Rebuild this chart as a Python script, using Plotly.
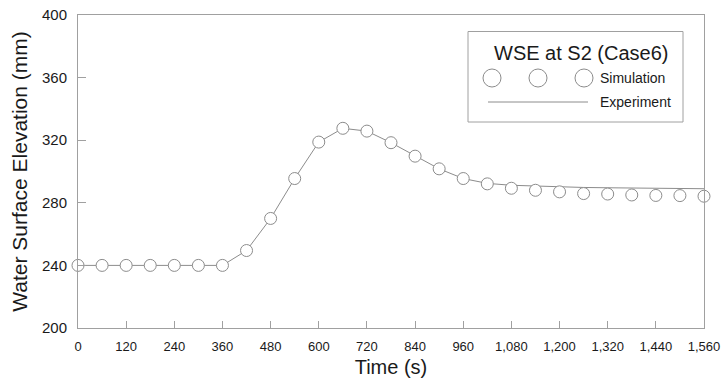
import plotly.graph_objects as go

# ---- data ----
sim_time = [0, 60, 120, 180, 240, 300, 360, 420, 480, 540, 600, 660, 720, 780, 840,
            900, 960, 1020, 1080, 1140, 1200, 1260, 1320, 1380, 1440, 1500, 1560]
sim_wse = [240, 240, 240, 240, 240, 240, 240, 249.5, 270, 295.5, 318.8, 327.6, 325.8,
           318.4, 309.8, 301.7, 295.5, 292.1, 289.3, 288.0, 287.0, 285.9, 285.6, 285.0,
           284.7, 284.6, 284.2]

exp_time = [0, 60, 120, 180, 240, 300, 360, 420, 480, 540, 600, 660, 720, 780, 840,
            900, 960, 1020, 1080, 1140, 1200, 1260, 1320, 1380, 1440, 1500, 1560]
exp_wse = [240, 240, 240, 240, 240, 240, 240, 249.5, 270, 295.5, 318.8, 327.6, 325.8,
           318.4, 309.8, 301.7, 295.5, 292.4, 291.2, 290.6, 290.1, 289.8, 289.6, 289.4,
           289.2, 289.1, 289.0]

x_ticks = list(range(0, 1561, 120))
y_ticks = list(range(200, 401, 40))

legend_title = "WSE at S2 (Case6)"
sim_name = "Simulation"
exp_name = "Experiment"

# ---- style ----
FONT = "Liberation Sans, Arial, sans-serif"
TXT = "#1a1a1a"
GRAY = "#8c8c8c"
AX = "#a0a0a0"

W, H = 727, 387
ML, MR, MT, MB = 78, 23, 15, 59
PW, PH = W - ML - MR, H - MT - MB


def px(x):
    return (x - ML) / PW


def py(y):
    return (H - MB - y) / PH


fig = go.Figure()
fig.add_trace(go.Scatter(x=exp_time, y=exp_wse, mode="lines", name=exp_name,
                         line=dict(color=GRAY, width=1), showlegend=False,
                         cliponaxis=False))
fig.add_trace(go.Scatter(x=sim_time, y=sim_wse, mode="markers", name=sim_name,
                         marker=dict(symbol="circle", size=12, color="white",
                                     line=dict(color=GRAY, width=1)),
                         showlegend=False, cliponaxis=False))

shapes = []
annotations = []
# legend box
shapes.append(dict(type="rect", xref="paper", yref="paper",
                   x0=px(468), x1=px(683), y0=py(122), y1=py(31.5),
                   line=dict(color=AX, width=1), fillcolor="white", layer="below"))
annotations.append(dict(xref="paper", yref="paper", x=px(581), y=py(53),
                        text=legend_title, showarrow=False, xanchor="center",
                        yanchor="middle", font=dict(family=FONT, size=20, color=TXT)))
r = 9
for cx in [492, 538, 584]:
    shapes.append(dict(type="circle", xref="paper", yref="paper",
                       x0=px(cx - r), x1=px(cx + r), y0=py(78 + r), y1=py(78 - r),
                       line=dict(color=GRAY, width=1), fillcolor="white"))
annotations.append(dict(xref="paper", yref="paper", x=px(598), y=py(78),
                        text=sim_name, showarrow=False, xanchor="left", yanchor="middle",
                        font=dict(family=FONT, size=14, color=TXT)))
shapes.append(dict(type="line", xref="paper", yref="paper",
                   x0=px(488), x1=px(588), y0=py(102), y1=py(102),
                   line=dict(color=GRAY, width=1)))
annotations.append(dict(xref="paper", yref="paper", x=px(598), y=py(102),
                        text=exp_name, showarrow=False, xanchor="left", yanchor="middle",
                        font=dict(family=FONT, size=14, color=TXT)))

fig.update_layout(
    width=W, height=H,
    margin=dict(l=ML, r=MR, t=MT, b=MB, pad=0, autoexpand=False),
    paper_bgcolor="white", plot_bgcolor="white",
    font=dict(family=FONT, color=TXT),
    shapes=shapes, annotations=annotations,
    xaxis=dict(range=[0, 1560], tickvals=x_ticks, tickformat=",d", automargin=False,
               showgrid=False, zeroline=False, showline=True, linecolor=AX, linewidth=1,
               mirror=True, ticks="inside", ticklen=7, tickcolor=AX,
               ticklabelstandoff=6,
               tickfont=dict(family=FONT, size=13, color=TXT),
               title=dict(text="Time (s)", font=dict(family=FONT, size=20, color=TXT),
                          standoff=7)),
    yaxis=dict(range=[200, 400], tickvals=y_ticks, automargin=False,
               showgrid=False, zeroline=False, showline=True, linecolor=AX, linewidth=1,
               mirror=True, ticks="inside", ticklen=8, tickcolor=AX,
               ticklabelstandoff=7,
               tickfont=dict(family=FONT, size=15, color=TXT),
               title=dict(text="Water Surface Elevation (mm)",
                          font=dict(family=FONT, size=21, color=TXT), standoff=8)),
)

fig.write_html("out.html")
